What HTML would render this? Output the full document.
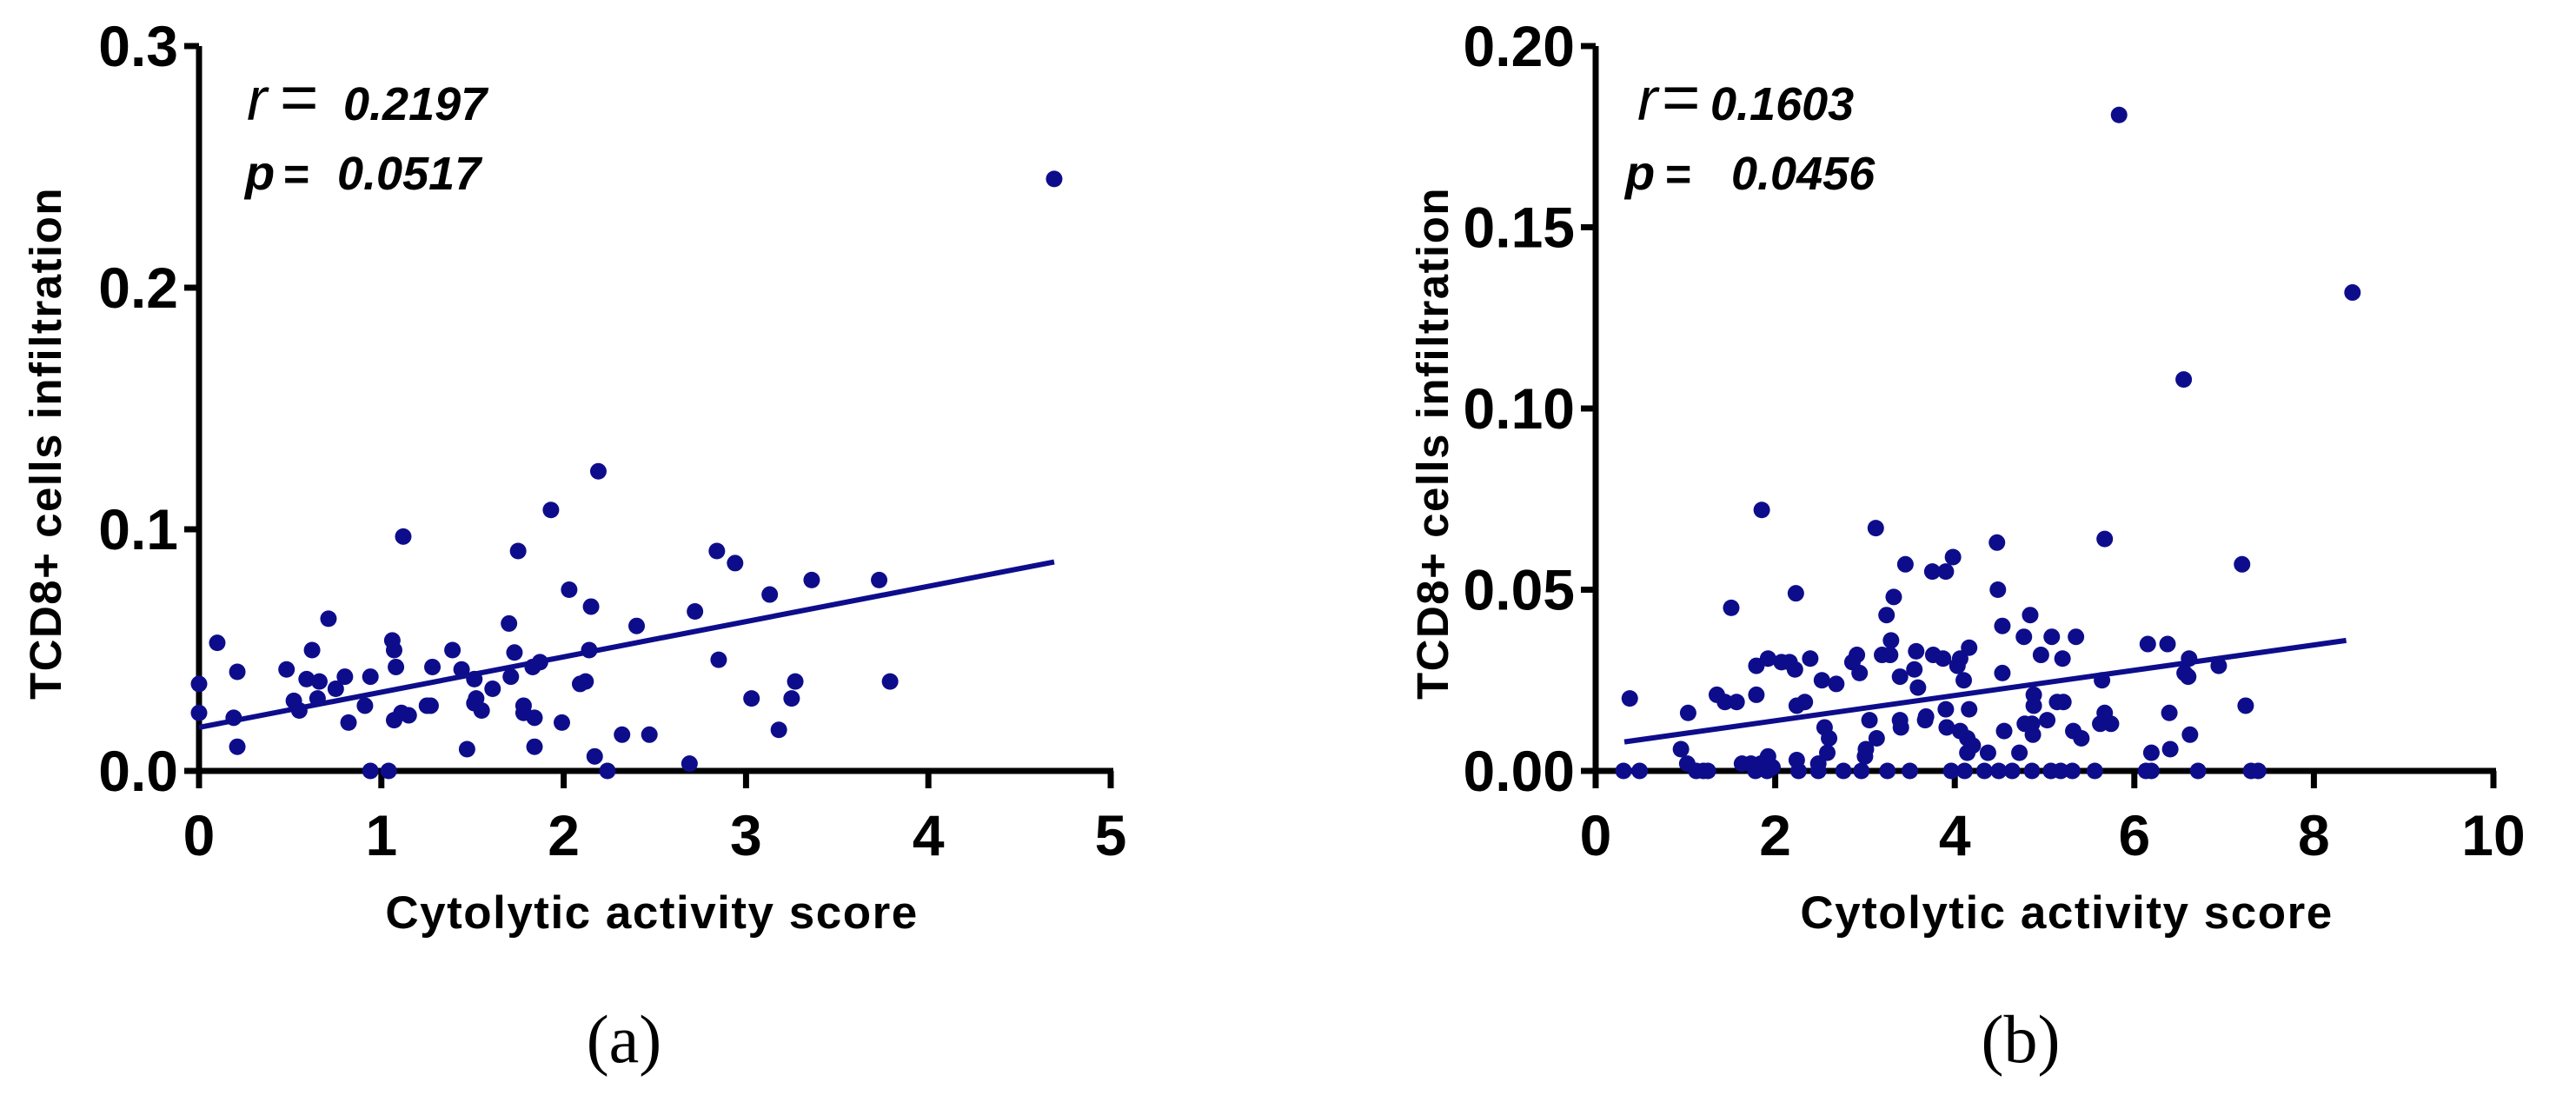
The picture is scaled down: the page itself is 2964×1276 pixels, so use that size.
<!DOCTYPE html>
<html><head><meta charset="utf-8"><style>
html,body{margin:0;padding:0;background:#fff;}
svg{display:block;}
text{font-family:"Liberation Sans",Arial,sans-serif;fill:#000;}
</style></head><body>
<svg id="fig" width="2964" height="1276" viewBox="0 0 2964 1276" xmlns="http://www.w3.org/2000/svg">
<g id="pa"></g>
<g id="pb"></g>
</svg>
<script>
const aX=[0,0,0.1,0.19,0.21,0.21,0.48,0.52,0.55,0.59,0.62,0.66,0.65,0.71,0.75,0.8,0.82,0.91,0.94,0.94,1.04,1.06,1.07,1.08,1.07,1.11,1.12,1.15,1.25,1.27,1.28,1.39,1.44,1.47,1.51,1.51,1.52,1.55,1.61,1.70,1.71,1.73,1.75,1.78,1.78,1.83,1.84,1.84,1.87,1.93,1.99,2.03,2.09,2.12,2.15,2.14,2.17,2.19,2.24,2.32,2.40,2.47,2.69,2.72,2.84,2.85,2.94,3.03,3.13,3.18,3.25,3.27,3.36,3.73,3.79,4.69];
const aY=[0.036,0.024,0.053,0.022,0.041,0.010,0.042,0.029,0.025,0.038,0.050,0.037,0.030,0.063,0.034,0.039,0.020,0.027,0.039,0,0,0.054,0.050,0.043,0.021,0.024,0.097,0.023,0.027,0.027,0.043,0.050,0.042,0.009,0.038,0.028,0.030,0.025,0.034,0.061,0.039,0.049,0.091,0.027,0.024,0.043,0.022,0.010,0.045,0.108,0.020,0.075,0.036,0.037,0.068,0.050,0.006,0.124,0,0.015,0.060,0.015,0.003,0.066,0.091,0.046,0.086,0.030,0.073,0.017,0.030,0.037,0.079,0.079,0.037,0.245];
const aFit=[[0,0.018],[4.69,0.0865]];
const aXTicks=[0,1,2,3,4,5];
const aYTicks=[0,0.1,0.2,0.3];
const aYLabels=["0.0","0.1","0.2","0.3"];

const bX=[0.31,0.49,0.38,0.95,1.02,1.03,1.12,1.2,1.25,1.35,1.44,1.51,1.57,1.63,1.73,1.78,1.79,1.79,1.84,1.85,1.91,1.92,1.92,1.97,2.07,2.16,2.22,2.23,2.24,2.24,2.26,2.33,2.39,2.48,2.48,2.52,2.55,2.58,2.60,2.68,2.76,2.86,2.91,2.94,2.96,3.0,3.01,3.05,3.12,3.13,3.19,3.24,3.25,3.28,3.29,3.32,3.39,3.39,3.40,3.45,3.50,3.55,3.57,3.59,3.67,3.68,3.75,3.76,3.87,3.90,3.90,3.91,3.96,3.98,4.03,4.06,4.06,4.1,4.11,4.14,4.14,4.16,4.16,4.2,4.33,4.37,4.47,4.48,4.49,4.53,4.53,4.55,4.64,4.72,4.77,4.78,4.84,4.86,4.86,4.87,4.88,4.88,4.96,5.03,5.07,5.08,5.14,5.18,5.2,5.21,5.31,5.32,5.35,5.41,5.56,5.62,5.64,5.67,5.67,5.74,5.83,6.13,6.15,6.19,6.19,6.37,6.39,6.40,6.55,6.56,6.6,6.61,6.62,6.71,6.94,7.2,7.24,7.30,7.38,8.43];
const bY=[0,0,0.020,0.006,0.002,0.016,0,0,0,0.021,0.019,0.045,0.019,0.002,0.002,0,0.021,0.029,0.002,0.072,0,0.004,0.031,0.001,0.030,0.030,0.028,0.049,0.018,0.003,0,0.019,0.031,0.002,0,0.025,0.012,0.005,0.009,0.024,0,0.030,0.032,0.027,0,0.004,0.006,0.014,0.067,0.009,0.032,0.043,0,0.032,0.036,0.048,0.026,0.014,0.012,0.057,0,0.028,0.033,0.023,0.014,0.015,0.055,0.032,0.031,0.055,0.017,0.012,0,0.059,0.029,0.031,0.011,0.025,0,0.009,0.005,0.017,0.034,0.007,0,0.005,0.063,0.050,0,0.027,0.040,0.011,0,0.005,0.037,0.013,0.043,0.013,0,0.010,0.018,0.021,0.032,0.014,0,0.037,0.019,0,0.031,0.019,0,0.011,0.037,0.009,0,0.013,0.025,0.064,0.016,0.013,0.181,0,0.035,0,0.005,0.035,0.016,0.006,0.108,0.027,0.026,0.031,0.010,0,0.029,0.057,0.018,0,0,0.132];
const bFit=[[0.32,0.008],[8.36,0.036]];
const bXTicks=[0,2,4,6,8,10];
const bYTicks=[0,0.05,0.10,0.15,0.20];
const bYLabels=["0.00","0.05","0.10","0.15","0.20"];

const NS="http://www.w3.org/2000/svg";
const NAVY="#0d0d8c";
function mk(parent,tag,attrs,txt){const e=document.createElementNS(NS,tag);for(const k in attrs)e.setAttribute(k,attrs[k]);if(txt!==undefined)e.textContent=txt;parent.appendChild(e);return e;}

function stat(g,name,letter,lx,y,eqx,numx,num){
  const t=mk(g,'text',{x:lx,y:y,'font-size':66,'font-style':'italic'});
  
  
  mk(t,'tspan',{'font-weight':letter==='p'?'bold':'normal','font-size':letter==='p'?56:70},letter);
  mk(t,'tspan',{x:eqx,'font-style':'normal','font-size':letter==='p'?52:76,'font-weight':letter==='p'?'bold':'normal'},'=');
  mk(t,'tspan',{x:numx,'font-weight':'bold','font-size':54},num);
}

function panel(g,cfg){
  const sx=v=>cfg.x0+(v-cfg.xmin)/(cfg.xmax-cfg.xmin)*(cfg.x1-cfg.x0);
  const sy=v=>cfg.y0-(v-cfg.ymin)/(cfg.ymax-cfg.ymin)*(cfg.y0-cfg.y1);
  const ya=mk(g,'line',{x1:cfg.x0,y1:cfg.y1,x2:cfg.x0,y2:cfg.y0+3,stroke:'#000','stroke-width':7});
  
  
  const xa=mk(g,'line',{x1:cfg.x0-3,y1:cfg.y0,x2:cfg.x1+3,y2:cfg.y0,stroke:'#000','stroke-width':7});
  
  
  cfg.yTicks.forEach((v,i)=>{
    const y=sy(v);
    const t=mk(g,'line',{x1:cfg.x0-17,y1:y,x2:cfg.x0,y2:y,stroke:'#000','stroke-width':7});
    
    
    const l=mk(g,'text',{x:cfg.x0-24,y:y+23,'text-anchor':'end','font-size':66,'font-weight':'bold'},cfg.yLabels[i]);
    
    
  });
  cfg.xTicks.forEach(v=>{
    const x=sx(v);
    const t=mk(g,'line',{x1:x,y1:cfg.y0,x2:x,y2:cfg.y0+20,stroke:'#000','stroke-width':7});
    
    
    const l=mk(g,'text',{x:x,y:984,'text-anchor':'middle','font-size':66,'font-weight':'bold'},String(v));
    
    
  });
  cfg.xs.forEach((xv,i)=>{
    const c=mk(g,'circle',{cx:sx(xv),cy:sy(cfg.ys[i]),r:9.5,fill:NAVY});
    
    
  });
  const f=mk(g,'line',{x1:sx(cfg.fit[0][0]),y1:sy(cfg.fit[0][1]),x2:sx(cfg.fit[1][0]),y2:sy(cfg.fit[1][1]),stroke:NAVY,'stroke-width':6});
  
  
  const xt=mk(g,'text',{x:cfg.xtx,y:1068,'text-anchor':'middle','font-size':53,'font-weight':'bold','letter-spacing':'1.5'},'Cytolytic activity score');
  
  
  const yt=mk(g,'text',{x:0,y:0,'text-anchor':'middle','font-size':51,'font-weight':'bold','letter-spacing':'1.5',transform:`translate(${cfg.ytx},${cfg.yty}) rotate(-90)`},'TCD8+ cells infiltration');
  
  
  stat(g,'r-value','r',cfg.rx,138,cfg.req,cfg.rnum,cfg.rtext);
  stat(g,'p-value','p',cfg.px,218,cfg.peq,cfg.pnum,cfg.ptext);
  const lab=mk(g,'text',{x:cfg.labx,y:1222,'text-anchor':'middle','font-size':78,style:'font-family:"Liberation Serif",serif'},cfg.lab);
  
  
}
panel(document.getElementById('pa'),{x0:229,x1:1278,y0:887,y1:53,xmin:0,xmax:5,ymin:0,ymax:0.3,
  xTicks:aXTicks,yTicks:aYTicks,yLabels:aYLabels,xs:aX,ys:aY,fit:aFit,xtx:750,ytx:70,yty:510,
  rx:284,req:322,rnum:395,rtext:'0.2197',px:282,peq:326,pnum:388,ptext:'0.0517',labx:718,lab:'(a)'});
panel(document.getElementById('pb'),{x0:1836,x1:2869,y0:887,y1:53,xmin:0,xmax:10,ymin:0,ymax:0.2,
  xTicks:bXTicks,yTicks:bYTicks,yLabels:bYLabels,xs:bX,ys:bY,fit:bFit,xtx:2378,ytx:1666,yty:510,
  rx:1884,req:1912,rnum:1968,rtext:'0.1603',px:1870,peq:1916,pnum:1992,ptext:'0.0456',labx:2325,lab:'(b)'});
</script>
</body></html>
